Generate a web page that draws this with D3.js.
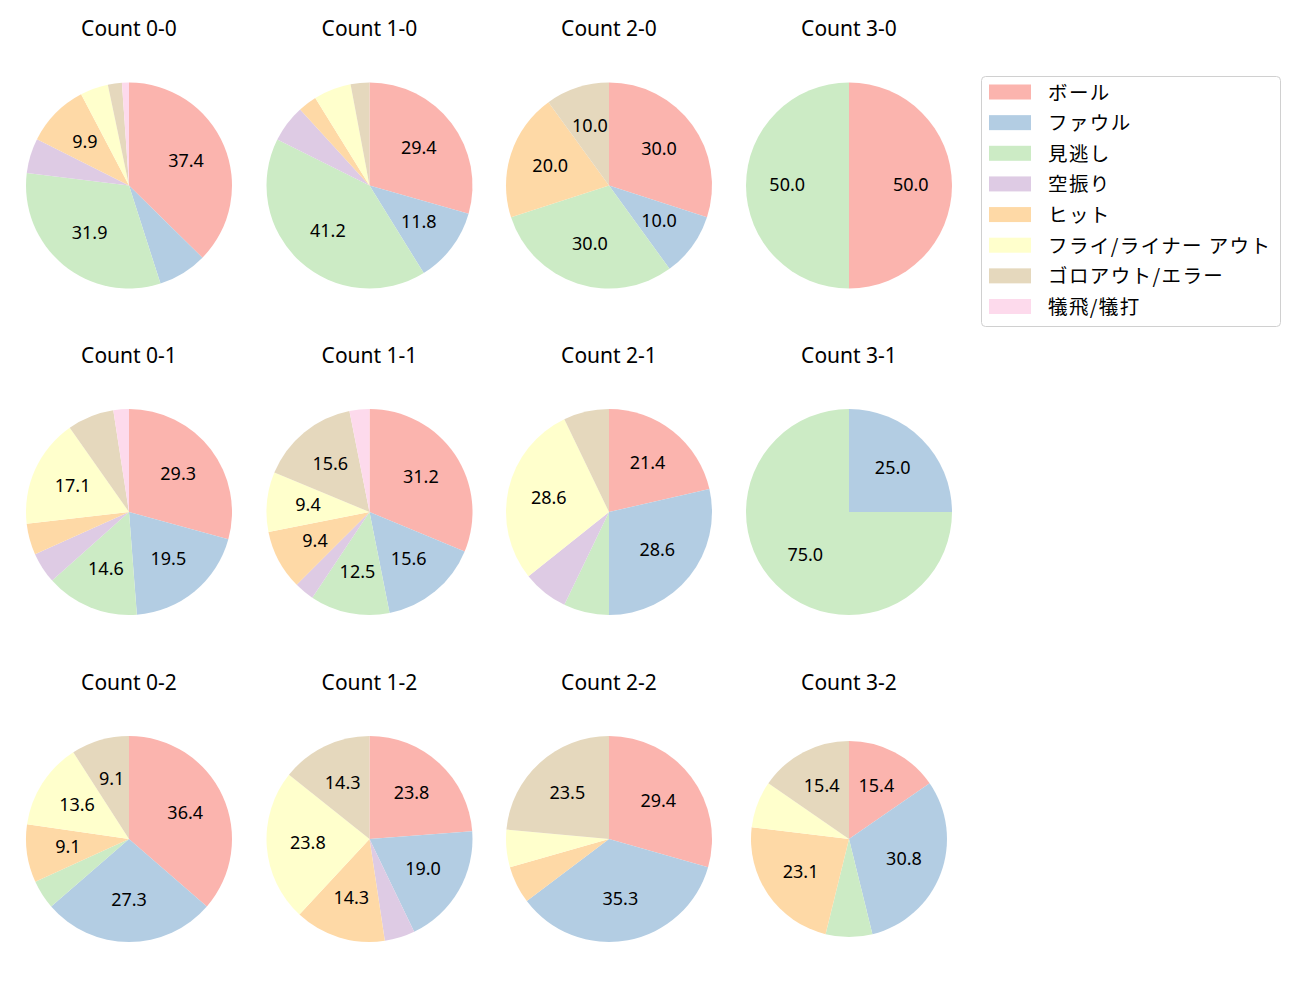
<!DOCTYPE html>
<html>
<head>
<meta charset="utf-8">
<script src="https://cdn.jsdelivr.net/npm/d3@7/dist/d3.min.js"></script>
<style>
body { margin: 0; background: #fff; }
text { font-family: "Noto Sans", "Noto Sans CJK JP", sans-serif; }
text.jp { font-family: "Noto Sans CJK JP", "Noto Sans", sans-serif; }
</style>
</head>
<body>
<svg id="chart" width="1300" height="1000"></svg>
<script>
const categories = ["ボール", "ファウル", "見逃し", "空振り", "ヒット", "フライ/ライナー アウト", "ゴロアウト/エラー", "犠飛/犠打"];
const colors = ["#fbb4ae", "#b3cde3", "#ccebc5", "#decbe4", "#fed9a6", "#ffffcc", "#e5d8bd", "#fddaec"];
const countTitles = ["Count 0-0", "Count 1-0", "Count 2-0", "Count 3-0",
                     "Count 0-1", "Count 1-1", "Count 2-1", "Count 3-1",
                     "Count 0-2", "Count 1-2", "Count 2-2", "Count 3-2"];
// pitch result counts per category, in category order
const count00 = [34, 7, 29, 5, 9, 4, 2, 1];
const count10 = [10, 4, 14, 2, 1, 2, 1, 0];
const count20 = [3, 1, 3, 0, 2, 0, 1, 0];
const count30 = [1, 0, 1, 0, 0, 0, 0, 0];
const count01 = [12, 8, 6, 2, 2, 7, 3, 1];
const count11 = [10, 5, 4, 1, 3, 3, 5, 1];
const count21 = [3, 4, 1, 1, 0, 4, 1, 0];
const count31 = [0, 1, 3, 0, 0, 0, 0, 0];
const count02 = [8, 6, 1, 0, 2, 3, 2, 0];
const count12 = [5, 4, 0, 1, 3, 5, 3, 0];
const count22 = [5, 6, 0, 0, 1, 1, 4, 0];
const count32 = [2, 4, 1, 0, 3, 1, 2, 0];
const allCounts = [count00, count10, count20, count30, count01, count11, count21, count31, count02, count12, count22, count32];

const svg = d3.select("#chart");
const colX = [129, 369.5, 609, 849];
const rowY = [185.5, 512, 839];
const titleY = [28, 355, 682];
const radii = [103, 103, 103, 103, 103, 103, 103, 103, 103, 103, 103, 98];

const color = d3.scaleOrdinal().domain(categories).range(colors);
const pie = d3.pie().sort(null).value(d => d.v);

// format with round-half-even like Python's '%1.1f'
function fmt(p) {
  const x = p * 10;
  const f = Math.floor(x);
  let r;
  if (Math.abs(x - f - 0.5) < 1e-9) r = (f % 2 === 0) ? f : f + 1;
  else r = Math.round(x);
  return (r / 10).toFixed(1);
}

allCounts.forEach((vals, i) => {
  const col = i % 4, row = Math.floor(i / 4);
  const r = radii[i];
  const total = d3.sum(vals);
  const g = svg.append("g").attr("transform", `translate(${colX[col]},${rowY[row]})`);
  const data = vals.map((v, k) => ({ v, cat: categories[k] }));
  const arcs = pie(data);
  const arc = d3.arc().innerRadius(0).outerRadius(r);
  const labelArc = d3.arc().innerRadius(r * 0.6).outerRadius(r * 0.6);
  g.selectAll("path").data(arcs.filter(a => a.data.v > 0)).join("path")
    .attr("d", arc)
    .attr("fill", d => color(d.data.cat));
  g.selectAll("text.lbl").data(arcs.filter(a => a.data.v / total * 100 > 8)).join("text")
    .attr("class", "lbl")
    .attr("transform", d => { const c = labelArc.centroid(d); return `translate(${c[0]},${c[1] - 1.5})`; })
    .attr("text-anchor", "middle")
    .attr("dominant-baseline", "central")
    .attr("font-size", 18)
    .attr("fill", "#000")
    .text(d => fmt(d.data.v / total * 100));
  svg.append("text")
    .attr("x", colX[col]).attr("y", titleY[row])
    .attr("text-anchor", "middle").attr("dominant-baseline", "central")
    .attr("font-size", 21).attr("fill", "#000")
    .text(countTitles[i]);
});

// legend
const lg = svg.append("g");
lg.append("rect").attr("x", 981.5).attr("y", 76.5).attr("width", 299).attr("height", 250)
  .attr("rx", 4).attr("fill", "#fff").attr("stroke", "#d0d0d0").attr("stroke-width", 1);
const legendY = d3.scalePoint().domain(categories).range([92, 306.5]);
categories.forEach(c => {
  lg.append("rect").attr("x", 989).attr("y", legendY(c) - 7.5).attr("width", 42).attr("height", 15)
    .attr("fill", color(c));
  lg.append("text").attr("class", "jp").attr("x", 1048).attr("y", legendY(c) - 1)
    .attr("dominant-baseline", "central").attr("font-size", 19.5).attr("fill", "#000")
    .attr("letter-spacing", 1.4)
    .text(c);
});
</script>
</body>
</html>
